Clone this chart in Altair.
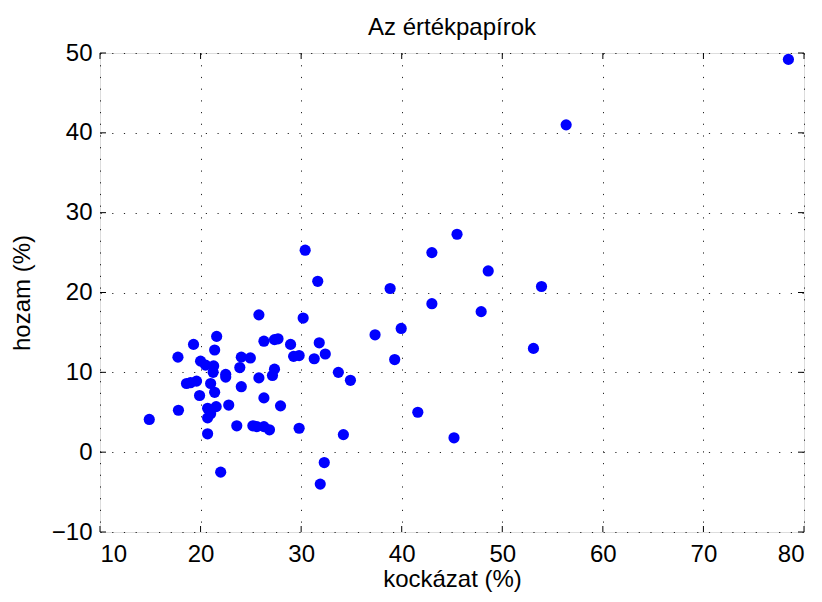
import altair as alt
import pandas as pd

# kockázat (%) – risk
risk = [14.9, 17.75, 17.8, 18.6, 19.0, 19.6, 19.3, 19.9, 20.0, 20.5,
        21.3, 21.25, 21.0, 21.4, 21.6, 21.4, 20.7, 21.55, 21.0, 20.7,
        20.7, 22.0, 22.5, 22.5, 22.8, 23.6, 23.9, 24.05, 24.05, 24.95,
        25.2, 25.6, 26.3, 26.85, 25.8, 25.8, 26.3, 26.3, 27.35, 27.7,
        27.35, 27.15, 27.95, 28.95, 29.25, 29.8, 29.8, 30.2, 30.4, 31.3,
        31.65, 31.8, 31.9, 32.3, 32.4, 33.7, 34.2, 34.9, 37.35, 38.85,
        39.3, 39.95, 41.6, 43.0, 43.0, 45.2, 45.5, 47.9, 48.6, 53.1,
        53.9, 56.35, 78.45]
# hozam (%) – return
ret = [4.1, 11.9, 5.25, 8.6, 8.7, 8.9, 13.5, 7.1, 11.4, 10.9,
       10.8, 10.0, 8.6, 7.5, 14.5, 12.8, 5.5, 5.7, 4.8, 4.3,
       2.3, -2.5, 9.75, 9.4, 5.9, 3.3, 10.6, 11.9, 8.2, 11.8,
       3.3, 3.2, 3.2, 2.8, 17.2, 9.3, 13.9, 6.8, 14.1, 14.2,
       10.4, 9.6, 5.8, 13.5, 12.0, 12.1, 3.0, 16.8, 25.3, 11.7,
       21.4, 13.7, -4.0, -1.3, 12.3, 10.0, 2.2, 9.0, 14.7, 20.5,
       11.6, 15.5, 5.0, 25.0, 18.6, 1.8, 27.3, 17.6, 22.7, 13.0,
       20.75, 41.0, 49.2]

x_ticks = [10, 20, 30, 40, 50, 60, 70, 80]
y_ticks = [-10, 0, 10, 20, 30, 40, 50]

W, H = 704, 479
TL = 6
FS = 24

df = pd.DataFrame({"risk": risk, "ret": ret})
xt = pd.DataFrame({"risk": x_ticks})
yt = pd.DataFrame({"ret": y_ticks})

xs = alt.Scale(domain=[10, 80], nice=False, zero=False)
ys = alt.Scale(domain=[-10, 50], nice=False, zero=False)

grid_common = dict(grid=True, gridColor="#000000", gridOpacity=0.85,
                   gridDash=[1.2, 10.5], gridWidth=1, ticks=False,
                   domain=False, labelFont="Liberation Sans",
                   labelFontSize=FS, labelColor="#000000",
                   titleFont="Liberation Sans", titleFontSize=FS,
                   titleFontWeight="normal", titleColor="#000000")

xaxis = alt.Axis(values=x_ticks, title="kockázat (%)", labelPadding=10,
                 titlePadding=1, **grid_common)
yaxis = alt.Axis(values=y_ticks, title="hozam (%)", labelPadding=8,
                 titlePadding=17, **grid_common)

X = alt.X("risk:Q", scale=xs, axis=xaxis)
Y = alt.Y("ret:Q", scale=ys, axis=yaxis)

points = alt.Chart(df).mark_circle(size=125, color="#0000ff", opacity=1).encode(x=X, y=Y)

rule_style = dict(color="#000000", strokeWidth=1)
tick_bottom = alt.Chart(xt).mark_rule(**rule_style).encode(
    x=X, y=alt.value(H), y2=alt.value(H - TL))
tick_top = alt.Chart(xt).mark_rule(**rule_style).encode(
    x=X, y=alt.value(0), y2=alt.value(TL))
tick_left = alt.Chart(yt).mark_rule(**rule_style).encode(
    y=Y, x=alt.value(0), x2=alt.value(TL))
tick_right = alt.Chart(yt).mark_rule(**rule_style).encode(
    y=Y, x=alt.value(W), x2=alt.value(W - TL))

chart = alt.layer(points, tick_bottom, tick_top, tick_left, tick_right).properties(
    width=W, height=H,
    title=alt.TitleParams("Az értékpapírok", font="Liberation Sans", fontSize=FS,
                          fontWeight="normal", color="#000000", offset=1),
    autosize=alt.AutoSizeParams(type="none"),
    padding={"left": 92, "top": 45, "right": 10, "bottom": 62},
).configure_view(stroke="#000000", strokeWidth=1.5).configure(background="#ffffff")

chart.save("out.html", embed_options={"renderer": "svg", "actions": False})
